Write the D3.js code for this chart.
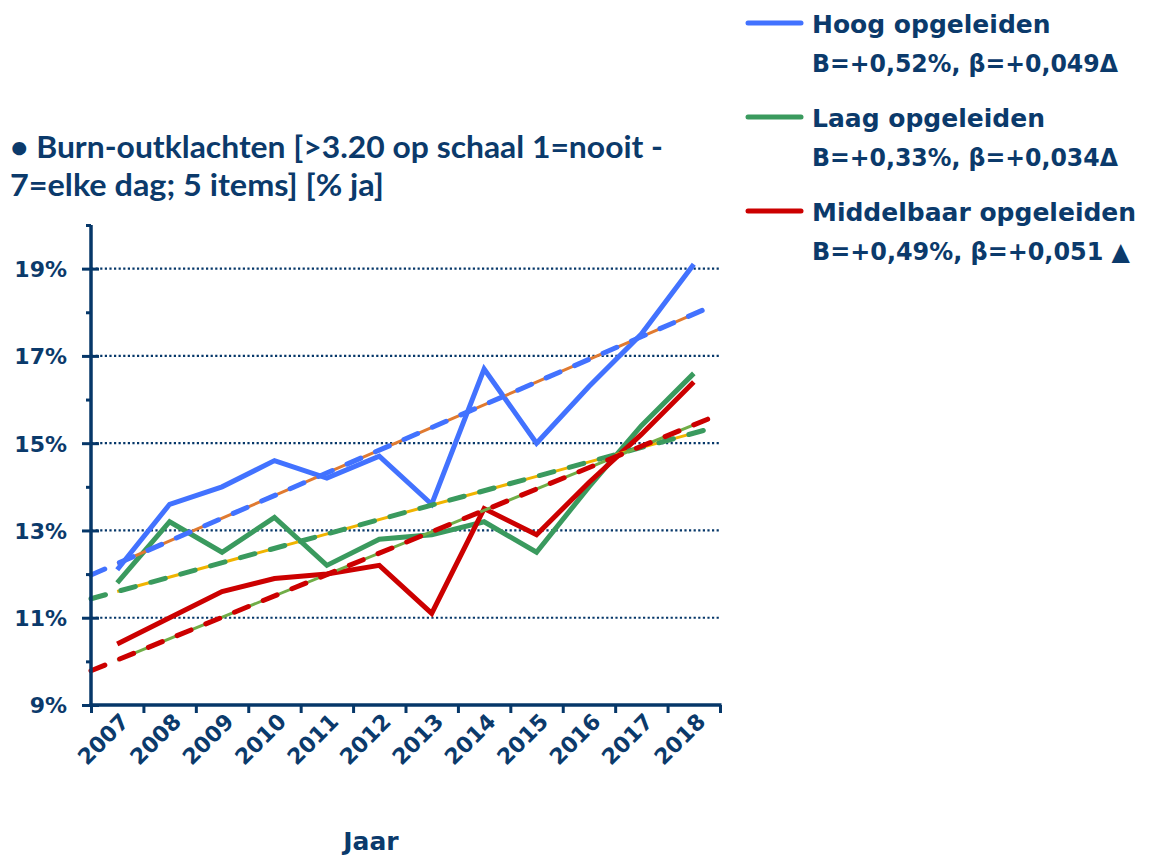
<!DOCTYPE html>
<html><head><meta charset="utf-8">
<script src="https://cdn.jsdelivr.net/npm/d3@7"></script>
<style>body{margin:0;background:#fff}svg{display:block}</style>
</head><body>
<svg id="chart" width="1151" height="857"></svg>
<script>
// ---- data ----
const years = [2007,2008,2009,2010,2011,2012,2013,2014,2015,2016,2017,2018];
const hoog   = [12.1,13.6,14.0,14.6,14.2,14.7,13.6,16.7,15.0,16.3,17.5,19.1];
const laag   = [11.8,13.2,12.5,13.3,12.2,12.8,12.9,13.2,12.5,14.0,15.4,16.6];
const middel = [10.4,11.0,11.6,11.9,12.0,12.2,11.1,13.5,12.9,14.1,15.2,16.4];
const seriesNames = ["Hoog opgeleiden","Laag opgeleiden","Middelbaar opgeleiden"];
const legendStats = ["B=+0,52%, β=+0,049Δ","B=+0,33%, β=+0,034Δ","B=+0,49%, β=+0,051 ▲"];
const trendSlope  = [0.52, 0.33, 0.49];     // B per jaar
const trendAt2007 = [12.24, 11.60, 10.03];  // trend value in 2007
const yMajor = [9,11,13,15,17,19];
const yMinor = [10,12,14,16,18,20];
const titleLines = ["• Burn-outklachten [>3.20 op schaal 1=nooit -","7=elke dag; 5 items] [% ja]"];
const xTitle = "Jaar";

// ---- styles ----
const navy = "#0B3A6B", axisCol = "#063769";
const lineCols  = ["#4272FF","#3A9A5E","#CC0000"];
const underCols = ["#E07A30","#F0B400","#70AD47"];

const svg = d3.select("#chart");
const L = 91, R = 720, T = 225, B = 705;
const x  = d3.scaleBand().domain(years).range([L,R]);
const xl = d3.scaleLinear().domain([2006.5,2018.5]).range([L,R]);
const y  = d3.scaleLinear().domain([9,20]).range([B,T]);
const cx = d => x(d) + x.bandwidth()/2;

// gridlines
svg.append("g").selectAll("line").data(yMajor.filter(v=>v>9)).join("line")
  .attr("x1",L).attr("x2",R).attr("y1",d=>y(d)).attr("y2",d=>y(d))
  .attr("stroke",axisCol).attr("stroke-width",2.2).attr("stroke-dasharray","2.2 2.4");

// data lines
const series = [hoog, laag, middel];
const line = d3.line().x((d,i)=>cx(years[i])).y(d=>y(d));
series.forEach((s,k)=>{
  svg.append("path").datum(s).attr("d",line).attr("fill","none")
    .attr("stroke",lineCols[k]).attr("stroke-width",5).attr("stroke-linejoin","miter");
});

// trend lines
const tl = d3.line().x(d=>xl(d[0])).y(d=>y(d[1]));
series.forEach((s,k)=>{
  const f = t => trendAt2007[k] + trendSlope[k]*(t-2007);
  svg.append("path").datum([[2007,f(2007)],[2018,f(2018)]]).attr("d",tl)
    .attr("fill","none").attr("stroke",underCols[k]).attr("stroke-width",3);
  svg.append("path").datum([[2006.5,f(2006.5)],[2018.3,f(2018.3)]]).attr("d",tl)
    .attr("fill","none").attr("stroke",lineCols[k]).attr("stroke-width",5)
    .attr("stroke-linecap","round").attr("stroke-dasharray","15 16");
});

// y axis
const font = "'DejaVu Sans', Verdana, sans-serif";
const gy = svg.append("g").attr("transform",`translate(${L},0)`)
  .call(d3.axisLeft(y).tickValues(yMajor).tickSize(9).tickPadding(15).tickFormat(d=>d+"%"));
gy.select(".domain").remove();
gy.selectAll("line").attr("stroke",axisCol).attr("stroke-width",3);
gy.selectAll("text").attr("fill",navy).attr("font-family",font).attr("font-weight","bold")
  .attr("font-size",22).attr("dy","0.36em");
const gy2 = svg.append("g").attr("transform",`translate(${L},0)`)
  .call(d3.axisRight(y).tickValues(yMajor).tickSize(8).tickFormat(""));
gy2.select(".domain").remove();
gy2.selectAll("line").attr("stroke",axisCol).attr("stroke-width",3);
const gy3 = svg.append("g").attr("transform",`translate(${L},0)`)
  .call(d3.axisLeft(y).tickValues(yMinor).tickSize(5).tickFormat(""));
gy3.select(".domain").remove();
gy3.selectAll("line").attr("stroke",axisCol).attr("stroke-width",3);
svg.append("line").attr("x1",L).attr("x2",L).attr("y1",T).attr("y2",B+1.5)
  .attr("stroke",axisCol).attr("stroke-width",3.5);

// x axis
const gx = svg.append("g").attr("transform",`translate(0,${B})`)
  .call(d3.axisBottom(xl).tickValues(d3.range(2006.5,2019,1)).tickSize(8).tickFormat(""));
gx.select(".domain").remove();
gx.selectAll("line").attr("stroke",axisCol).attr("stroke-width",3);
svg.append("line").attr("x1",L-1.5).attr("x2",R+1.5).attr("y1",B).attr("y2",B)
  .attr("stroke",axisCol).attr("stroke-width",3.5);
const gxl = svg.append("g").attr("transform",`translate(0,${B})`)
  .call(d3.axisBottom(x).tickSize(0).tickPadding(0));
gxl.select(".domain").remove();
gxl.selectAll("text").attr("x",0).attr("y",0).attr("dy",0)
  .attr("text-anchor","end").attr("transform","translate(13,18) rotate(-45)")
  .attr("fill",navy).attr("font-family",font).attr("font-weight","bold").attr("font-size",22);

svg.append("text").attr("x",371).attr("y",850).attr("text-anchor","middle")
  .attr("fill",navy).attr("font-family",font).attr("font-weight","bold").attr("font-size",25)
  .text(xTitle);

// title
const titleW = [653, 374];
titleLines.forEach((t,i)=>{
  svg.append("text").attr("x",10).attr("y",158+i*38)
    .attr("fill",navy).attr("font-family","Lato, 'Open Sans', sans-serif").attr("font-weight","bold")
    .attr("font-size",31).attr("textLength",titleW[i]).attr("lengthAdjust","spacingAndGlyphs").text(t);
});

// legend
const legY = [0, 94, 188];
const statW = [306, 306, 318];
seriesNames.forEach((n,k)=>{
  const g = svg.append("g").attr("transform",`translate(0,${legY[k]})`);
  g.append("line").attr("x1",748).attr("x2",801).attr("y1",23).attr("y2",23)
    .attr("stroke",lineCols[k]).attr("stroke-width",5).attr("stroke-linecap","round");
  g.append("text").attr("x",812).attr("y",33).attr("fill",navy).attr("font-family",font)
    .attr("font-weight","bold").attr("font-size",25).text(n);
  g.append("text").attr("x",812).attr("y",72).attr("fill",navy).attr("font-family",font)
    .attr("font-weight","bold").attr("font-size",25)
    .attr("textLength",statW[k]).attr("lengthAdjust","spacingAndGlyphs").text(legendStats[k]);
});
</script>
</body></html>
